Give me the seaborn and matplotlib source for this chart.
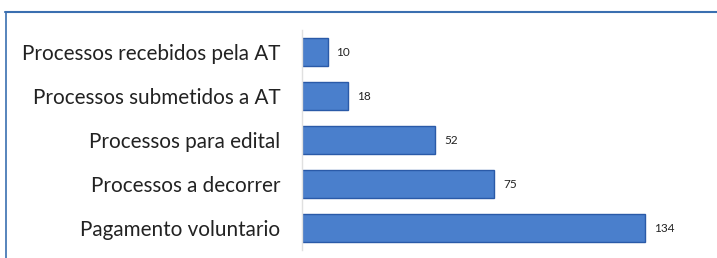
import matplotlib
matplotlib.use("Agg")
import matplotlib.pyplot as plt
import seaborn as sns
import pandas as pd
from matplotlib.lines import Line2D

categories = ["Processos recebidos pela AT", "Processos submetidos a AT",
              "Processos para edital", "Processos a decorrer", "Pagamento voluntario"]
values = [10, 18, 52, 75, 134]

df = pd.DataFrame({"cat": categories, "val": values})

sns.set_style("white")
plt.rcParams['font.family'] = ['Lato', 'DejaVu Sans']

fig = plt.figure(figsize=(7.17, 2.58), dpi=100)
ax = fig.add_axes([302/717, 1 - 250/258, (700 - 302)/717, (250 - 30)/258])

sns.barplot(data=df, x="val", y="cat", orient="h", ax=ax, color="#4a7fcc",
            saturation=1, width=0.62, edgecolor="#2a5aa8", linewidth=1.0)

ax.set_xlim(0, 155.5)
ax.set_xlabel("")
ax.set_ylabel("")
ax.set_xticks([])
ax.tick_params(axis="y", length=0, pad=15.5, labelsize=14.9, labelcolor="#222222")
for s in ["top", "right", "bottom"]:
    ax.spines[s].set_visible(False)
ax.spines["left"].set_color("#e0e0e0")
ax.spines["left"].set_linewidth(1.0)

for i, v in enumerate(values):
    ax.text(v + 3.5, i, str(v), va="center", ha="left", fontsize=8.5, color="#222222")

# chart frame border (top and left)
fig.add_artist(Line2D([5/717, 1], [1 - 12/258, 1 - 12/258], transform=fig.transFigure,
                      color="#3a6fb0", linewidth=1.5))
fig.add_artist(Line2D([6/717, 6/717], [0, 1 - 12/258], transform=fig.transFigure,
                      color="#3a6fb0", linewidth=1.2))

fig.savefig("out.png", dpi=100)
